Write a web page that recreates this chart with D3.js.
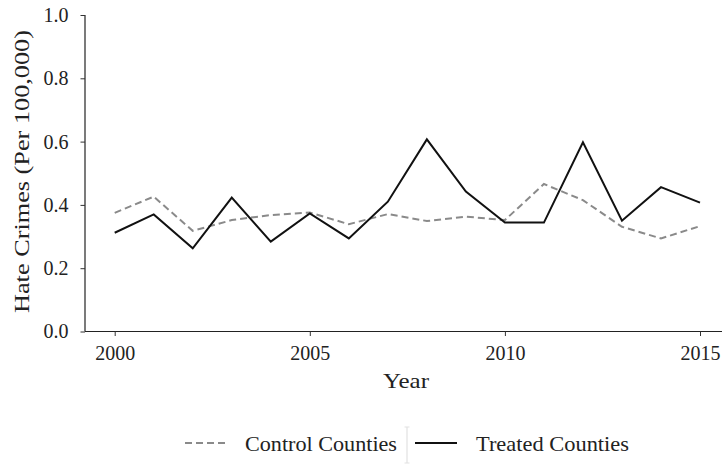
<!DOCTYPE html>
<html>
<head>
<meta charset="utf-8">
<script src="https://cdn.jsdelivr.net/npm/d3@7"></script>
<style>
  html, body { margin: 0; padding: 0; background: #fff; }
  svg { display: block; }
  text { font-family: "Liberation Serif", "Times New Roman", serif; fill: #222; }
</style>
</head>
<body>
<svg id="chart" width="722" height="468"></svg>
<script>
// Annual hate crimes per 100,000 residents
const years = [2000, 2001, 2002, 2003, 2004, 2005, 2006, 2007, 2008, 2009, 2010, 2011, 2012, 2013, 2014, 2015];
const controlCounties = [0.375, 0.426, 0.318, 0.352, 0.368, 0.376, 0.339, 0.371, 0.349, 0.363, 0.352, 0.466, 0.415, 0.331, 0.294, 0.333];
const treatedCounties = [0.312, 0.370, 0.263, 0.423, 0.284, 0.373, 0.294, 0.410, 0.607, 0.442, 0.344, 0.344, 0.598, 0.350, 0.456, 0.407];
const xTicks = [2000, 2005, 2010, 2015];
const yTicks = [0.0, 0.2, 0.4, 0.6, 0.8, 1.0];
const seriesNames = ["Control Counties", "Treated Counties"];

const svg = d3.select("#chart");
const plotLeft = 85, plotRight = 722, plotTop = 15, plotBottom = 331.5;

const x = d3.scaleLinear().domain([2000, 2015]).range([114.7, 700]);
const y = d3.scaleLinear().domain([0, 1]).range([plotBottom, plotTop]);

// Axes
const yAxis = svg.append("g")
  .attr("transform", `translate(${plotLeft},0)`)
  .call(d3.axisLeft(y).tickValues(yTicks).tickFormat(d3.format(".1f")).tickSize(4.5).tickPadding(12));
yAxis.select(".domain").attr("d", `M0,${plotTop}V${plotBottom}`);

const xAxis = svg.append("g")
  .attr("transform", `translate(0,${plotBottom})`)
  .call(d3.axisBottom(x).tickValues(xTicks).tickFormat(d3.format("d")).tickSize(4.5).tickPadding(10));
xAxis.select(".domain").attr("d", `M${plotLeft},0H${plotRight}`);

svg.selectAll(".domain").attr("stroke", "#222").attr("stroke-width", 1.2);
svg.selectAll(".tick line").attr("stroke", "#333").attr("stroke-width", 1);
svg.selectAll(".tick text")
  .style("font-family", '"Liberation Serif", serif')
  .style("font-size", "20px")
  .attr("fill", "#222");

// Axis titles
svg.append("text")
  .attr("x", 406).attr("y", 388)
  .attr("text-anchor", "middle")
  .attr("textLength", 46).attr("lengthAdjust", "spacingAndGlyphs")
  .style("font-size", "21px")
  .text("Year");

svg.append("text")
  .attr("transform", "translate(29,171.5) rotate(-90)")
  .attr("text-anchor", "middle")
  .attr("textLength", 283).attr("lengthAdjust", "spacingAndGlyphs")
  .style("font-size", "21px")
  .text("Hate Crimes (Per 100,000)");

// Lines
const line = d3.line().x((d, i) => x(years[i])).y(d => y(d));

svg.append("path")
  .datum(controlCounties)
  .attr("fill", "none")
  .attr("stroke", "#8a8a8a")
  .attr("stroke-width", 2)
  .attr("stroke-dasharray", "7,4")
  .attr("d", line);

svg.append("path")
  .datum(treatedCounties)
  .attr("fill", "none")
  .attr("stroke", "#111")
  .attr("stroke-width", 2)
  .attr("d", line);

// Legend
const lg = svg.append("g");
lg.append("line")
  .attr("x1", 185).attr("x2", 227).attr("y1", 443).attr("y2", 443)
  .attr("stroke", "#8a8a8a").attr("stroke-width", 2).attr("stroke-dasharray", "7,4");
lg.append("text")
  .attr("x", 245).attr("y", 451)
  .attr("textLength", 152).attr("lengthAdjust", "spacingAndGlyphs")
  .style("font-size", "21px")
  .text(seriesNames[0]);

// thin divider between entries
lg.append("path")
  .attr("d", "M407,427V463M404.5,427H409.5M404.5,463H409.5")
  .attr("stroke", "#e2e2e2").attr("stroke-width", 1.2).attr("fill", "none");

lg.append("line")
  .attr("x1", 415).attr("x2", 457).attr("y1", 443).attr("y2", 443)
  .attr("stroke", "#111").attr("stroke-width", 2);
lg.append("text")
  .attr("x", 476).attr("y", 451)
  .attr("textLength", 153).attr("lengthAdjust", "spacingAndGlyphs")
  .style("font-size", "21px")
  .text(seriesNames[1]);
</script>
</body>
</html>
